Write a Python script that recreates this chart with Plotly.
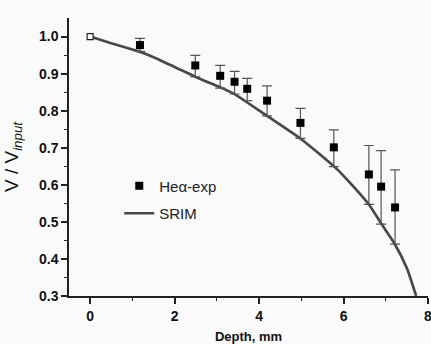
import plotly.graph_objects as go

# Experimental data (He-alpha)
exp_depth = [0.0, 1.18, 2.49, 3.08, 3.42, 3.72, 4.19, 4.98, 5.77, 6.60, 6.89, 7.22]
exp_v = [1.0, 0.977, 0.922, 0.894, 0.878, 0.859, 0.827, 0.767, 0.701, 0.628, 0.595, 0.539]
exp_err_plus = [0.0, 0.018, 0.027, 0.028, 0.028, 0.028, 0.040, 0.039, 0.047, 0.078, 0.097, 0.101]
exp_err_minus = [0.0, 0.017, 0.031, 0.033, 0.033, 0.032, 0.041, 0.042, 0.052, 0.081, 0.101, 0.099]

# SRIM curve
srim_depth = [0.0, 0.5, 1.0, 1.2, 1.45, 2.0, 2.5, 3.1, 3.4, 4.2, 5.0, 5.8, 6.1, 6.6, 6.9, 7.2, 7.5, 7.72]
srim_v = [1.0, 0.982, 0.965, 0.958, 0.947, 0.918, 0.891, 0.862, 0.846, 0.785, 0.723, 0.647, 0.612, 0.547, 0.494, 0.443, 0.375, 0.30]

x_ticks = [0, 2, 4, 6, 8]
y_ticks = [0.3, 0.4, 0.5, 0.6, 0.7, 0.8, 0.9, 1.0]

fig = go.Figure()

fig.add_trace(go.Scatter(
    x=srim_depth, y=srim_v, mode="lines", name="SRIM",
    line=dict(color="#484848", width=2.7, shape="spline", smoothing=0.6),
    legendgroup="b", legendrank=2,
))

fig.add_trace(go.Scatter(
    x=exp_depth[1:], y=exp_v[1:], mode="markers", name="He\u03b1-exp",
    marker=dict(symbol="square", size=8, color="black"),
    error_y=dict(type="data", array=exp_err_plus[1:], arrayminus=exp_err_minus[1:],
                 color="#555555", thickness=1.2, width=5),
    legendgroup="a", legendrank=1,
))

fig.add_trace(go.Scatter(
    x=exp_depth[:1], y=exp_v[:1], mode="markers", showlegend=False,
    marker=dict(symbol="square", size=6, color="white", line=dict(color="#222", width=1.2)),
))

font_tick = dict(family="Liberation Sans, Arial", size=14, color="#111")

fig.update_layout(
    width=431, height=344,
    margin=dict(l=69, r=3, t=18, b=48),
    paper_bgcolor="#fafafa", plot_bgcolor="#fafafa",
    font=dict(family="Liberation Sans, Arial", color="#111"),
    showlegend=True,
    legend=dict(x=0.14, y=0.455, xanchor="left", yanchor="top",
                bgcolor="rgba(0,0,0,0)", font=dict(size=15, color="#222"),
                tracegroupgap=5, traceorder="grouped"),
    xaxis=dict(
        range=[-0.5, 8], tickvals=x_ticks, ticktext=[f"<b>{t}</b>" for t in x_ticks],
        showgrid=False, zeroline=False, showline=True, linecolor="#222", linewidth=1.5,
        ticks="outside", ticklen=6, tickwidth=1.5, tickcolor="#222", tickfont=font_tick,
        ticklabeloverflow="allow",
        minor=dict(tickvals=[1, 3, 5, 7], ticks="outside", ticklen=3, tickwidth=1.2, tickcolor="#222"),
        title=dict(text="<b>Depth, mm</b>", font=dict(size=13), standoff=9),
        automargin=False,
    ),
    yaxis=dict(
        range=[0.3, 1.05], tickvals=y_ticks, ticktext=[f"<b>{t:.1f}</b>" for t in y_ticks],
        showgrid=False, zeroline=False, showline=True, linecolor="#222", linewidth=1.5,
        ticks="outside", ticklen=6, tickwidth=1.5, tickcolor="#222", tickfont=font_tick,
        minor=dict(tickvals=[0.35, 0.45, 0.55, 0.65, 0.75, 0.85, 0.95], ticks="outside",
                   ticklen=3, tickwidth=1.2, tickcolor="#222"),
        title=dict(text="V / V<sub><i>input</i></sub>", font=dict(size=19), standoff=15),
        automargin=False,
    ),
)

fig.write_html("out.html", config={"displayModeBar": False},
               post_script="document.body.style.margin='0px';")
